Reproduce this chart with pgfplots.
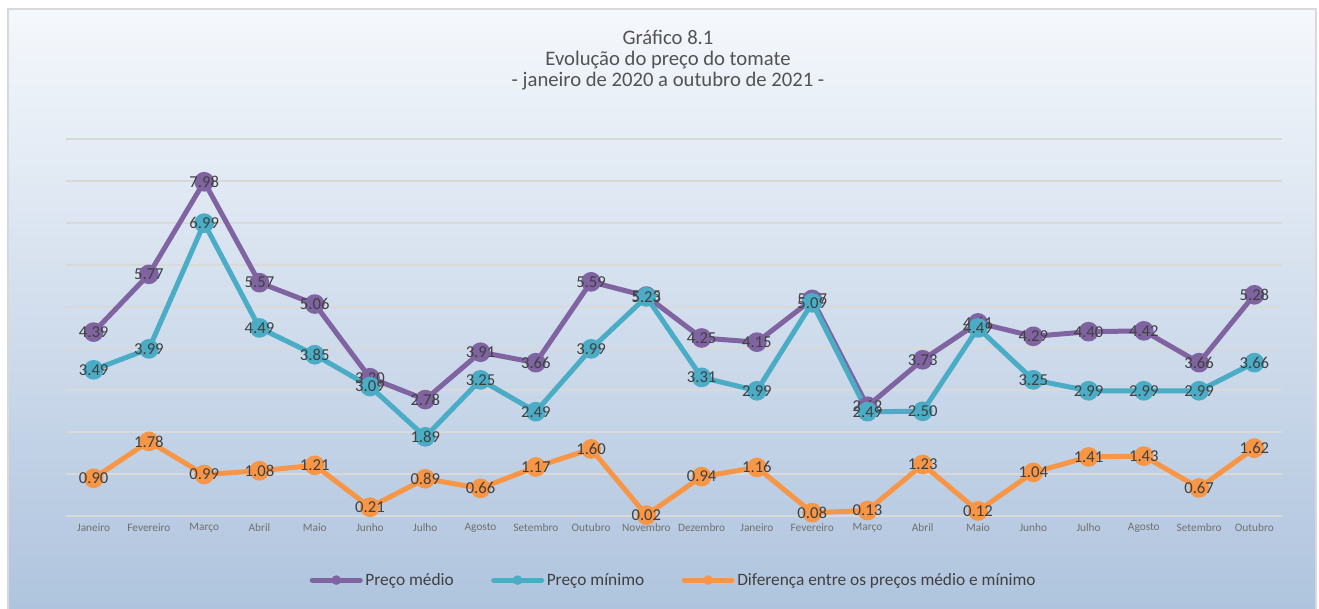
\documentclass[border=0pt]{standalone}
\usepackage{pgfplots}
\pgfplotsset{compat=1.18}
\usepackage{fontspec}
\setmainfont{Carlito}
\definecolor{medio}{HTML}{8064A2}
\definecolor{minimo}{HTML}{4BACC6}
\definecolor{dif}{HTML}{F79646}
\definecolor{txt}{HTML}{404040}
\definecolor{gridc}{HTML}{D9D9D9}
\begin{document}
\begin{tikzpicture}[x=0.75pt,y=0.75pt]
% picture in pixels of the reference, y measured from the bottom
\useasboundingbox (0,0) rectangle (1319,608);
\shade[top color={rgb,255:red,245;green,248;blue,252}, bottom color={rgb,255:red,175;green,196;blue,222}]
  (8,0) rectangle (1316,599);
\draw[gridc, line width=1.5pt] (8,-5) -- (8,599) -- (1316,599) -- (1316,-5);
\node[align=center, font=\fontsize{15.5}{15.5}\selectfont, text=txt!90!white] at (668,548)
  {Gráfico 8.1\\Evolução do preço do tomate\\- janeiro de 2020 a outubro de 2021 -};
\begin{axis}[
    at={(49.5pt,69pt)}, anchor=south west,
    scale only axis, width=912pt, height=282.75pt,
    xmin=-0.5, xmax=21.5, ymin=0, ymax=9,
    axis line style={draw=none}, clip=false,
    xtick={0,...,21},
    xticklabels={Janeiro,Fevereiro,Março,Abril,Maio,Junho,Julho,Agosto,Setembro,Outubro,Novembro,Dezembro,Janeiro,Fevereiro,Março,Abril,Maio,Junho,Julho,Agosto,Setembro,Outubro},
    ticklabel style={font=\fontsize{8.5}{10}\selectfont, text=txt!75!white},
    xticklabel style={yshift=-2pt},
    ytick={0,...,9}, yticklabels={},
    ymajorgrids, major grid style={gridc, line width=1.5pt},
    tick style={draw=none},
    every axis plot/.append style={line width=3.75pt, line join=round, mark=*, mark size=5.5pt,
      legend image code/.code={
        \draw[##1, mark=none, line width=3.75pt, line cap=round] (2pt,0pt) -- (38pt,0pt);
        \fill[##1, draw=none] (20pt,0pt) circle (3.6pt);}},
    nodes near coords,
    every node near coord/.append style={anchor=center, text=txt, font=\fontsize{12.5}{13}\selectfont},
    /pgf/number format/.cd, fixed, fixed zerofill, precision=2, assume math mode=true,
    /pgfplots/.cd,
    legend style={at={(0.5,-0.17)}, anchor=center, draw=none, fill=none,
      legend columns=-1, font=\fontsize{13}{14}\selectfont, text=txt,
      /tikz/every even column/.append style={column sep=26pt},
      /tikz/every odd column/.append style={column sep=0pt}},
]
\addplot[color=medio] coordinates {(0,4.39) (1,5.77) (2,7.98) (3,5.57) (4,5.06) (5,3.30) (6,2.78) (7,3.91) (8,3.66) (9,5.59) (10,5.25) (11,4.25) (12,4.15) (13,5.17) (14,2.62) (15,3.73) (16,4.61) (17,4.29) (18,4.40) (19,4.42) (20,3.66) (21,5.28)};
\addlegendentry{Preço médio}
\addplot[color=minimo] coordinates {(0,3.49) (1,3.99) (2,6.99) (3,4.49) (4,3.85) (5,3.09) (6,1.89) (7,3.25) (8,2.49) (9,3.99) (10,5.23) (11,3.31) (12,2.99) (13,5.09) (14,2.49) (15,2.50) (16,4.49) (17,3.25) (18,2.99) (19,2.99) (20,2.99) (21,3.66)};
\addlegendentry{Preço mínimo}
\addplot[color=dif] coordinates {(0,0.90) (1,1.78) (2,0.99) (3,1.08) (4,1.21) (5,0.21) (6,0.89) (7,0.66) (8,1.17) (9,1.60) (10,0.02) (11,0.94) (12,1.16) (13,0.08) (14,0.13) (15,1.23) (16,0.12) (17,1.04) (18,1.41) (19,1.43) (20,0.67) (21,1.62)};
\addlegendentry{Diferença entre os preços médio e mínimo}
\end{axis}
\end{tikzpicture}
\end{document}
